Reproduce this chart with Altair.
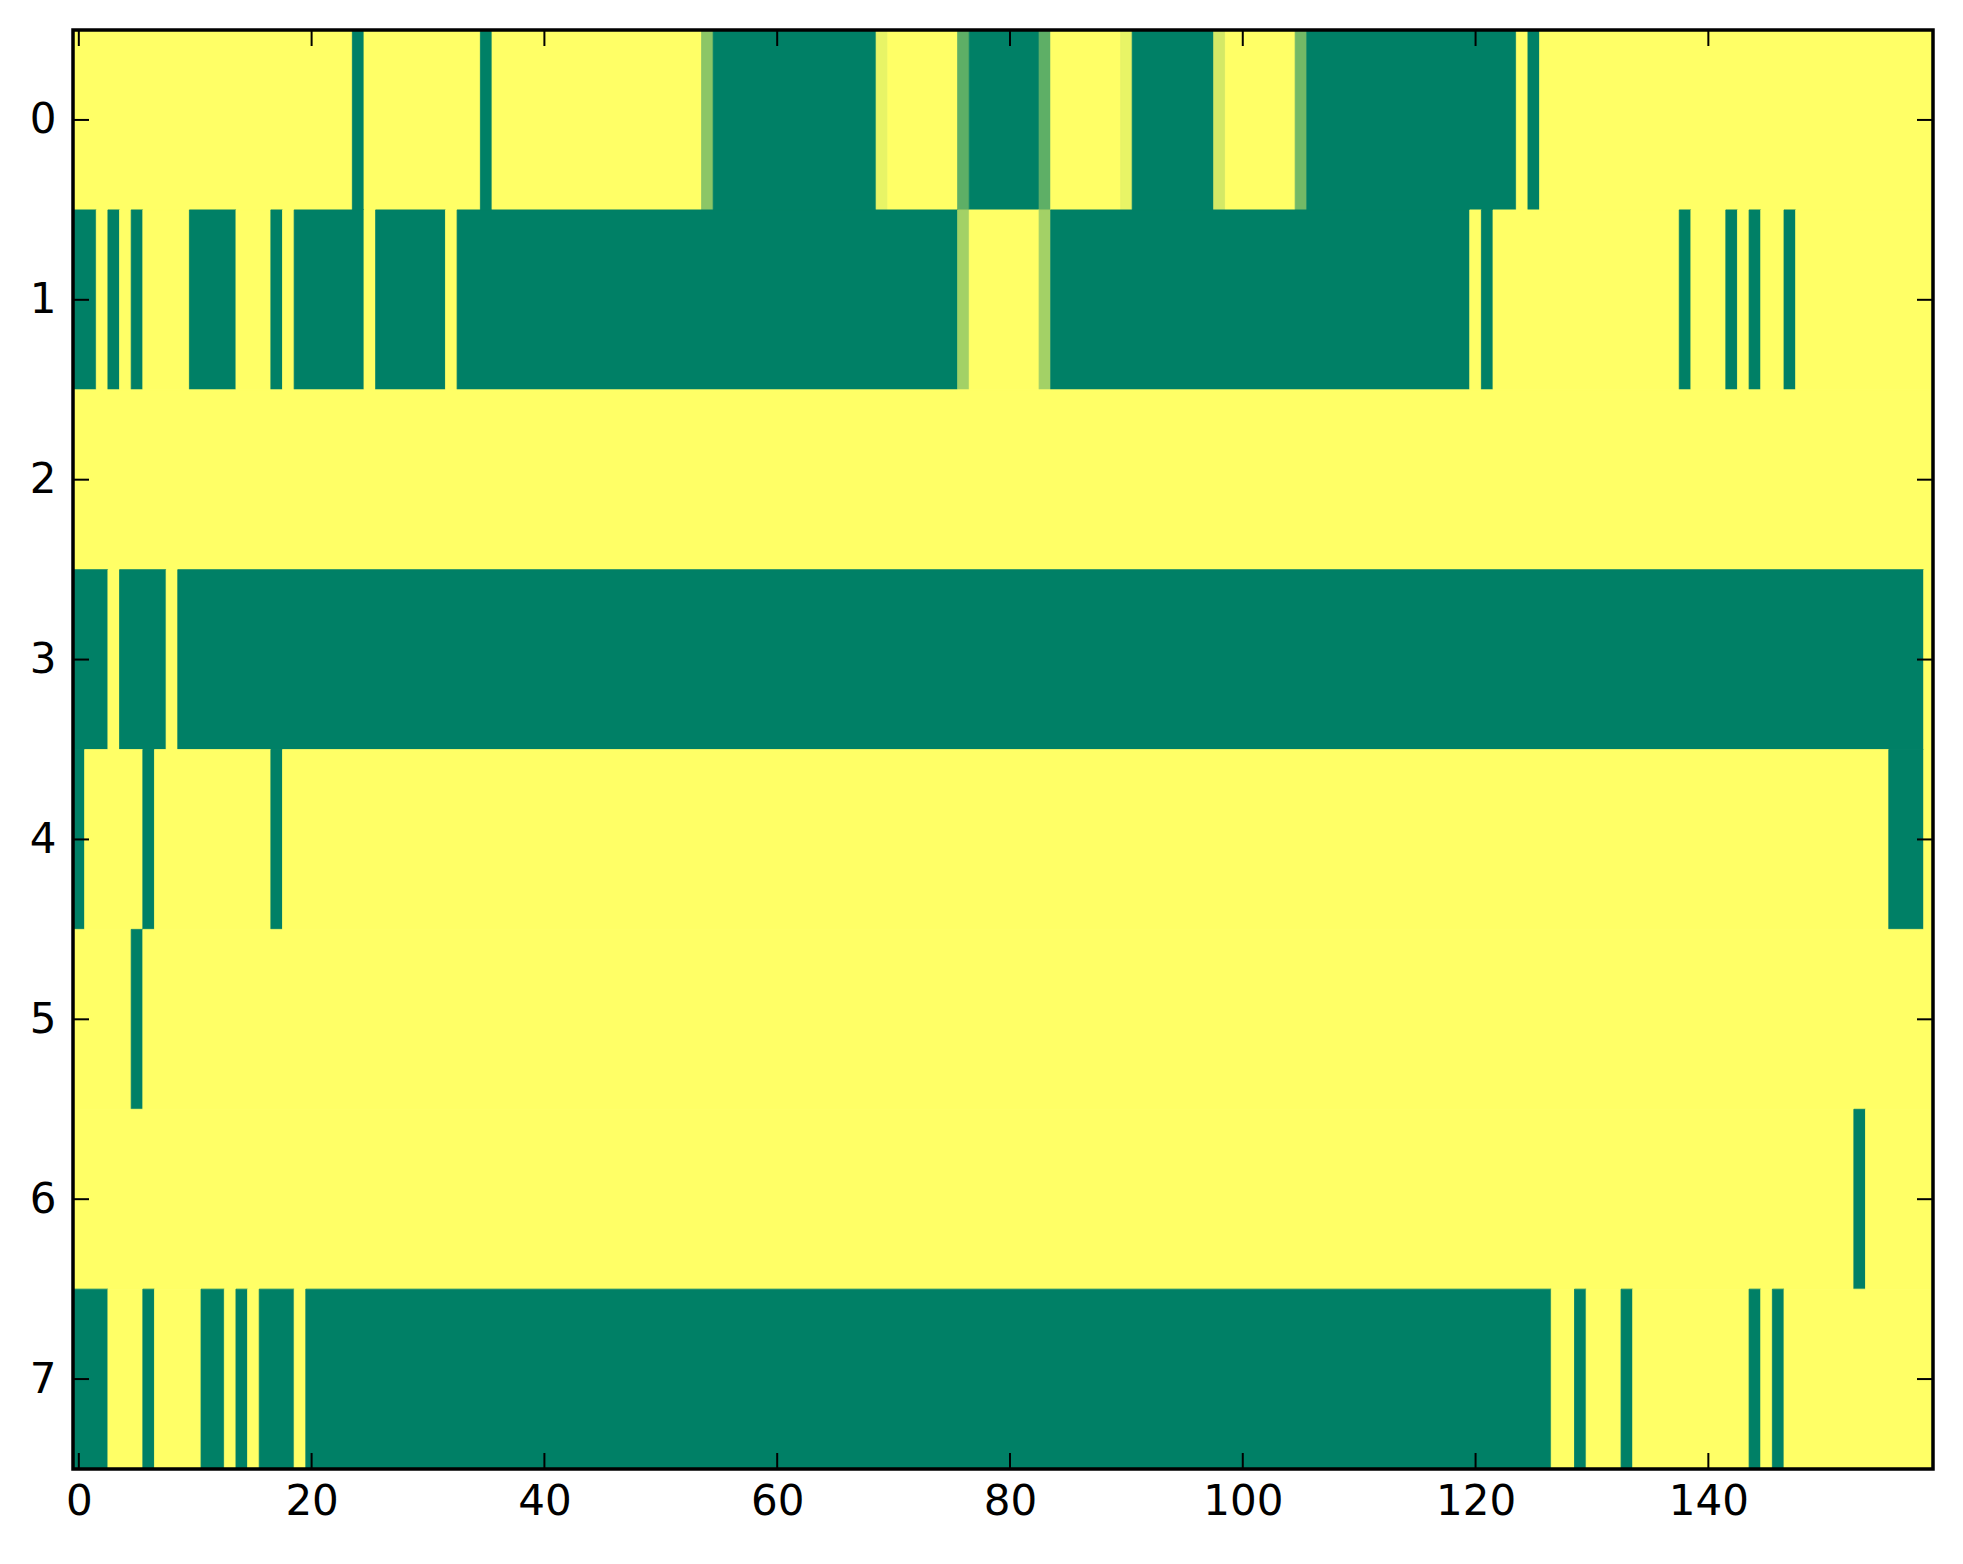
import altair as alt
import pandas as pd

# Row labels and tick labels
row_labels = [0, 1, 2, 3, 4, 5, 6, 7]
x_ticks = [0, 20, 40, 60, 80, 100, 120, 140]
n_cols = 160

# Each row as run-length pairs (cell value, number of consecutive columns)
row0 = [(1, 24), (0, 1), (1, 10), (0, 1), (1, 18), (0.55, 1), (0, 14), (0.91, 1), (1, 6),
        (0.37, 1), (0, 6), (0.37, 1), (1, 6), (0.91, 1), (0, 7), (0.83, 1), (1, 6),
        (0.45, 1), (0, 18), (1, 1), (0, 1), (1, 34)]
row1 = [(0, 2), (1, 1), (0, 1), (1, 1), (0, 1), (1, 4), (0, 4), (1, 3), (0, 1), (1, 1),
        (0, 6), (1, 1), (0, 6), (1, 1), (0, 43), (0.64, 1), (1, 6), (0.64, 1), (0, 36),
        (1, 1), (0, 1), (1, 16), (0, 1), (1, 3), (0, 1), (1, 1), (0, 1), (1, 2), (0, 1),
        (1, 12)]
row2 = [(1, 160)]
row3 = [(0, 3), (1, 1), (0, 4), (1, 1), (0, 150), (1, 1)]
row4 = [(0, 1), (1, 5), (0, 1), (1, 10), (0, 1), (1, 138), (0, 3), (1, 1)]
row5 = [(1, 5), (0, 1), (1, 154)]
row6 = [(1, 153), (0, 1), (1, 6)]
row7 = [(0, 3), (1, 3), (0, 1), (1, 4), (0, 2), (1, 1), (0, 1), (1, 1), (0, 3), (1, 1),
        (0, 107), (1, 2), (0, 1), (1, 3), (0, 1), (1, 10), (0, 1), (1, 1), (0, 1), (1, 13)]
rows = [row0, row1, row2, row3, row4, row5, row6, row7]

records = []
for r, runs in zip(row_labels, rows):
    start = 0
    for v, n in runs:
        records.append({"x0": start - 0.5, "x1": start + n - 0.5,
                        "y0": r - 0.5, "y1": r + 0.5, "v": v})
        start += n
df = pd.DataFrame(records)

W, H = 1860, 1439
FONT = "DejaVu Sans"
FS = 42
TL = 16

xs = alt.Scale(domain=[-0.5, 159.3], nice=False, zero=False)
ys = alt.Scale(domain=[-0.5, 7.5], nice=False, zero=False, reverse=True)
cscale = alt.Scale(domain=[0, 1], range=["#008066", "#ffff66"], interpolate="rgb")

ax_x = alt.Axis(values=x_ticks, title=None, labelFontSize=FS, labelFont=FONT,
                labelColor="black", ticks=False, domain=False, grid=False,
                labelPadding=12, format="d", labelFlush=False)
ax_y = alt.Axis(values=row_labels, title=None, labelFontSize=FS, labelFont=FONT,
                labelColor="black", ticks=False, domain=False, grid=False,
                labelPadding=17, format="d")

heat = alt.Chart(df).mark_rect(clip=True, strokeWidth=0.8).encode(
    x=alt.X("x0:Q", scale=xs, axis=ax_x),
    x2="x1:Q",
    y=alt.Y("y0:Q", scale=ys, axis=ax_y),
    y2="y1:Q",
    color=alt.Color("v:Q", scale=cscale, legend=None),
    stroke=alt.Stroke("v:Q", scale=cscale, legend=None),
)

xt = pd.DataFrame({"t": x_ticks})
yt = pd.DataFrame({"r": row_labels})

bottom = alt.Chart(xt).mark_rule(color="black", strokeWidth=2).encode(
    x=alt.X("t:Q", scale=xs, axis=ax_x), y=alt.value(H), y2=alt.value(H - TL))
top = alt.Chart(xt).mark_rule(color="black", strokeWidth=2).encode(
    x=alt.X("t:Q", scale=xs, axis=ax_x), y=alt.value(0), y2=alt.value(TL))
left = alt.Chart(yt).mark_rule(color="black", strokeWidth=2).encode(
    y=alt.Y("r:Q", scale=ys, axis=ax_y), x=alt.value(0), x2=alt.value(TL))
right = alt.Chart(yt).mark_rule(color="black", strokeWidth=2).encode(
    y=alt.Y("r:Q", scale=ys, axis=ax_y), x=alt.value(W - TL), x2=alt.value(W))

frame = alt.Chart(pd.DataFrame({"f": [0]})).mark_rect(
    fill=None, fillOpacity=0, stroke="black", strokeWidth=3.5
).encode(x=alt.value(0), x2=alt.value(W), y=alt.value(0), y2=alt.value(H))

chart = alt.layer(heat, bottom, top, left, right, frame).properties(
    width=W, height=H,
    padding={"left": 21, "top": 20, "right": 5, "bottom": 5},
    background="white",
).configure_view(stroke=None)

chart.save("out.html", embed_options={"renderer": "svg", "actions": False})
